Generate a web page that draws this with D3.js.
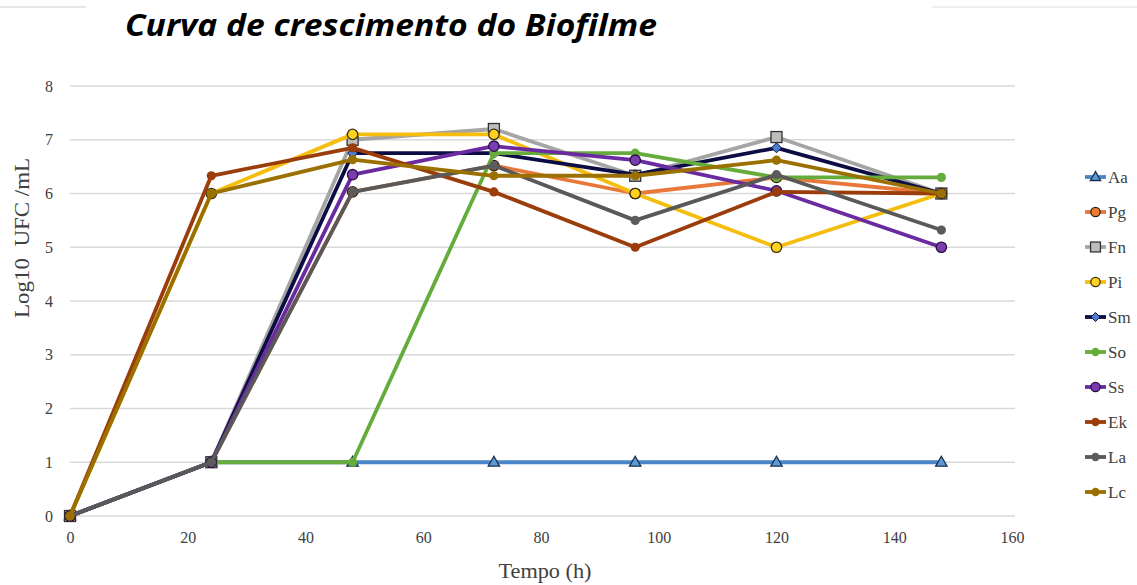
<!DOCTYPE html>
<html><head><meta charset="utf-8">
<script src="https://cdn.jsdelivr.net/npm/d3@7"></script>
<style>html,body{margin:0;padding:0;background:#fff;}svg{display:block;}</style>
</head><body>
<svg id="chart" width="1137" height="585"></svg>
<script>
const hours = [0, 24, 48, 72, 96, 120, 148];
const seriesNames = ["Aa","Pg","Fn","Pi","Sm","So","Ss","Ek","La","Lc"];
const Aa = [0, 1, 1, 1, 1, 1, 1];
const Pg = [0, 1, 6.03, 6.52, 6.0, 6.3, 6.0];
const Fn = [0, 1, 7.0, 7.2, 6.33, 7.05, 6.0];
const Pi = [0, 6.0, 7.1, 7.1, 6.0, 5.0, 6.0];
const Sm = [0, 1, 6.75, 6.75, 6.35, 6.85, 6.0];
const So = [0, 1, 1, 6.75, 6.75, 6.3, 6.3];
const Ss = [0, 1, 6.35, 6.88, 6.62, 6.05, 5.0];
const Ek = [0, 6.33, 6.85, 6.03, 5.0, 6.03, 6.0];
const La = [0, 1, 6.03, 6.52, 5.5, 6.35, 5.32];
const Lc = [0, 6.0, 6.63, 6.33, 6.33, 6.62, 6.0];
const xTicks = [0, 20, 40, 60, 80, 100, 120, 140, 160];
const yTicks = [0, 1, 2, 3, 4, 5, 6, 7, 8];
const titleText = "Curva de crescimento do Biofilme";
const xLabel = "Tempo (h)";
const yLabel = "Log10  UFC /mL";

const values = {Aa, Pg, Fn, Pi, Sm, So, Ss, Ek, La, Lc};
const style = {
  Aa: {line:"#4a86c8", marker:"triangle", fill:"#5b9bd5", stroke:"#1f2f4f"},
  Pg: {line:"#e8773a", marker:"circle", fill:"#ed7d31", stroke:"#3a2010"},
  Fn: {line:"#a5a5a5", marker:"square", fill:"#bdbdbd", stroke:"#333"},
  Pi: {line:"#f5bd0c", marker:"circle", fill:"#ffd21f", stroke:"#3a3010"},
  Sm: {line:"#0d0d45", marker:"diamond", fill:"#4a7fd0", stroke:"#0d0d45"},
  So: {line:"#66ac3c", marker:"dot", fill:"#66ac3c", stroke:"#66ac3c"},
  Ss: {line:"#6a2aa0", marker:"circle", fill:"#7a3db0", stroke:"#2a1040"},
  Ek: {line:"#9a3d0a", marker:"dot", fill:"#9a3d0a", stroke:"#9a3d0a"},
  La: {line:"#595959", marker:"dot", fill:"#5c5c5c", stroke:"#5c5c5c"},
  Lc: {line:"#9a7000", marker:"dot", fill:"#9a7000", stroke:"#9a7000"}
};

const svg = d3.select("#chart");
const x = d3.scaleLinear().domain([0,160]).range([70,1012]);
const y = d3.scaleLinear().domain([0,8]).range([516,86]);

svg.append("line").attr("x1",0).attr("x2",86).attr("y1",7).attr("y2",7).attr("stroke","#e6e6e6").attr("stroke-width",2);
svg.append("line").attr("x1",932).attr("x2",1137).attr("y1",7).attr("y2",7).attr("stroke","#eeeeee").attr("stroke-width",2);

svg.append("text").attr("x",125).attr("y",36)
  .attr("font-family","'Open Sans', 'Noto Sans', sans-serif").attr("font-weight","bold").attr("font-style","italic")
  .attr("font-size",31).attr("fill","#000")
  .attr("textLength",532).attr("lengthAdjust","spacingAndGlyphs")
  .text(titleText);

svg.append("g").selectAll("line").data(yTicks).join("line")
  .attr("x1",x(0)).attr("x2",1015).attr("y1",d=>y(d)).attr("y2",d=>y(d))
  .attr("stroke","#d9d9d9").attr("stroke-width",1.5);

const yAxis = d3.axisLeft(y).tickValues(yTicks).tickSize(0).tickPadding(0).tickFormat(d3.format("d"));
const gy = svg.append("g").attr("transform","translate(53,0)").call(yAxis);
gy.select(".domain").remove();
gy.selectAll("text").attr("font-family","'Liberation Serif', serif").attr("font-size",16).attr("fill","#404040").attr("text-anchor","end").attr("dy","0.32em");

const xAxis = d3.axisBottom(x).tickValues(xTicks).tickSize(0).tickPadding(0).tickFormat(d3.format("d"));
const gx = svg.append("g").attr("transform","translate(0,532)").call(xAxis);
gx.select(".domain").remove();
gx.selectAll("text").attr("font-family","'Liberation Serif', serif").attr("font-size",16).attr("fill","#404040").attr("dy","0.71em");

svg.append("text").attr("x",545).attr("y",578).attr("text-anchor","middle")
  .attr("font-family","'Liberation Serif', serif").attr("font-size",20).attr("fill","#404040")
  .attr("textLength",93).attr("lengthAdjust","spacingAndGlyphs").text(xLabel);
svg.append("text").attr("transform","translate(29,238) rotate(-90)").attr("text-anchor","middle")
  .attr("font-family","'Liberation Serif', serif").attr("font-size",20).attr("fill","#404040")
  .attr("textLength",160).attr("lengthAdjust","spacingAndGlyphs")
  .style("white-space","pre").text(yLabel);

const line = d3.line().x(d=>x(d[0])).y(d=>y(d[1]));

function drawMarker(g, type, s, cx, cy, scale) {
  const k = scale || 1;
  if (type === "circle") {
    g.append("circle").attr("cx",cx).attr("cy",cy).attr("r",5.2*k).attr("fill",s.fill).attr("stroke",s.stroke).attr("stroke-width",1.3);
  } else if (type === "dot") {
    g.append("circle").attr("cx",cx).attr("cy",cy).attr("r",4.6*k).attr("fill",s.fill);
  } else if (type === "square") {
    g.append("rect").attr("x",cx-5.5*k).attr("y",cy-5.5*k).attr("width",11*k).attr("height",11*k).attr("fill",s.fill).attr("stroke",s.stroke).attr("stroke-width",1.3);
  } else if (type === "triangle") {
    const r = 6*k;
    g.append("path").attr("d",`M${cx},${cy-r}L${cx+r*0.95},${cy+r*0.65}L${cx-r*0.95},${cy+r*0.65}Z`).attr("fill",s.fill).attr("stroke",s.stroke).attr("stroke-width",1.3);
  } else if (type === "diamond") {
    const r = 5*k;
    g.append("path").attr("d",`M${cx},${cy-r}L${cx+r},${cy}L${cx},${cy+r}L${cx-r},${cy}Z`).attr("fill",s.fill).attr("stroke",s.stroke).attr("stroke-width",1);
  }
}

const plot = svg.append("g");
seriesNames.forEach(name => {
  const s = style[name];
  const pts = hours.map((h,i)=>[h, values[name][i]]);
  const g = plot.append("g");
  g.append("path").datum(pts).attr("d",line).attr("fill","none").attr("stroke",s.line).attr("stroke-width",3.8).attr("stroke-linejoin","round");
  pts.forEach(p => drawMarker(g, s.marker, s, x(p[0]), y(p[1])));
});

const legend = svg.append("g");
seriesNames.forEach((name,i) => {
  const s = style[name];
  const ly = 177 + i*35;
  legend.append("line").attr("x1",1085).attr("x2",1106).attr("y1",ly).attr("y2",ly).attr("stroke",s.line).attr("stroke-width",3.8);
  drawMarker(legend, s.marker, s, 1095.5, ly, 0.9);
  legend.append("text").attr("x",1108).attr("y",ly).attr("dy","0.35em")
    .attr("font-family","'Liberation Serif', serif").attr("font-size",17).attr("fill","#404040").text(name);
});
</script>
</body></html>
